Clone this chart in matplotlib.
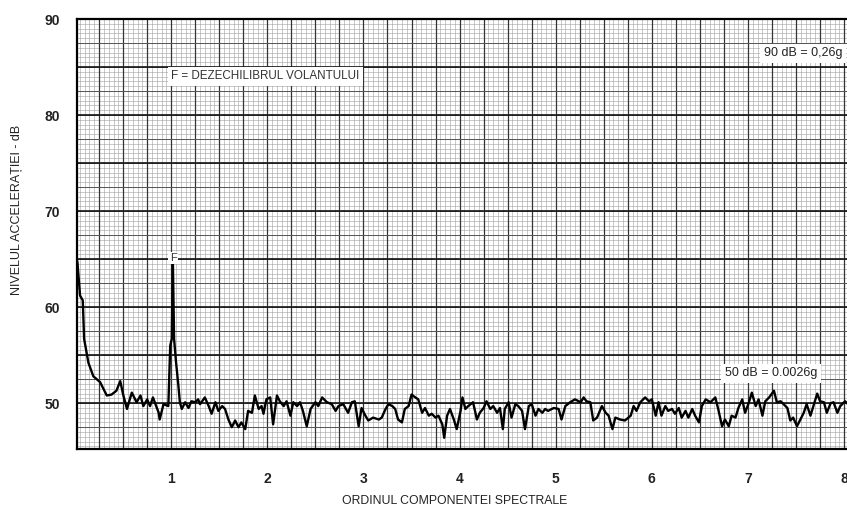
import matplotlib
matplotlib.use("Agg")
import matplotlib.pyplot as plt
import numpy as np

plt.rcParams['font.family'] = ['Liberation Sans', 'DejaVu Sans']

# Spectral trace: order (x) vs acceleration level (dB)
order = [0.0, 0.024, 0.052, 0.08, 0.094, 0.139, 0.19, 0.26, 0.33, 0.38, 0.43, 0.47, 0.50, 0.54,
         0.59, 0.64, 0.68, 0.71, 0.75, 0.78, 0.81, 0.87, 0.88, 0.92, 0.97, 0.99, 1.006, 1.017,
         1.03, 1.05, 1.075, 1.09, 1.11, 1.145, 1.18, 1.21, 1.25, 1.28, 1.30, 1.35, 1.39, 1.42,
         1.46, 1.49, 1.53, 1.56, 1.595, 1.63, 1.665, 1.70, 1.73, 1.77, 1.80, 1.84, 1.87, 1.91,
         1.94, 1.96, 1.99, 2.03, 2.06, 2.10, 2.13, 2.17, 2.20, 2.24, 2.27, 2.31, 2.34, 2.37,
         2.41, 2.45, 2.50, 2.53, 2.57, 2.62, 2.67, 2.71, 2.74, 2.79, 2.84, 2.88, 2.91, 2.95,
         2.98, 3.02, 3.05, 3.10, 3.16, 3.19, 3.23, 3.26, 3.30, 3.33, 3.36, 3.40, 3.43, 3.47,
         3.50, 3.54, 3.57, 3.61, 3.64, 3.68, 3.71, 3.75, 3.78, 3.82, 3.84, 3.87, 3.90, 3.94,
         3.97, 4.01, 4.03, 4.06, 4.09, 4.14, 4.18, 4.21, 4.25, 4.28, 4.32, 4.35, 4.39, 4.42,
         4.45, 4.47, 4.51, 4.54, 4.58, 4.61, 4.65, 4.68, 4.72, 4.75, 4.79, 4.82, 4.86, 4.89,
         4.92, 4.98, 5.03, 5.06, 5.10, 5.15, 5.20, 5.26, 5.29, 5.32, 5.36, 5.39, 5.43, 5.48,
         5.52, 5.55, 5.59, 5.62, 5.67, 5.72, 5.78, 5.81, 5.84, 5.88, 5.93, 5.97, 6.00, 6.04,
         6.07, 6.10, 6.14, 6.17, 6.21, 6.24, 6.28, 6.31, 6.35, 6.38, 6.42, 6.45, 6.49, 6.52,
         6.56, 6.61, 6.66, 6.69, 6.73, 6.76, 6.80, 6.83, 6.87, 6.90, 6.94, 6.97, 7.01, 7.04,
         7.08, 7.11, 7.15, 7.18, 7.22, 7.27, 7.30, 7.34, 7.37, 7.41, 7.44, 7.47, 7.51, 7.54,
         7.58, 7.61, 7.65, 7.68, 7.72, 7.75, 7.79, 7.82, 7.86, 7.89, 7.93, 7.96, 8.01, 8.05]
level_db = [65.5, 64.7, 61.2, 60.7, 56.7, 54.2, 52.8, 52.2, 50.8, 50.9, 51.3, 52.3, 50.9, 49.4,
            51.1, 50.1, 50.8, 49.7, 50.4, 49.7, 50.6, 49.0, 48.3, 49.9, 49.7, 56.0, 56.7, 65.0,
            56.7, 54.3, 51.8, 50.1, 49.4, 50.1, 49.5, 50.2, 50.1, 50.4, 49.9, 50.6, 49.7, 48.9,
            50.1, 49.2, 49.7, 49.4, 48.3, 47.5, 48.2, 47.5, 48.0, 47.3, 49.2, 49.0, 50.8, 49.4,
            49.7, 48.9, 50.4, 50.6, 47.8, 50.8, 50.2, 49.7, 50.2, 48.7, 50.1, 49.7, 50.1, 49.2,
            47.6, 49.4, 50.1, 49.7, 50.6, 50.1, 49.9, 49.2, 49.7, 49.9, 49.0, 50.1, 50.2, 47.6,
            49.5, 48.7, 48.2, 48.5, 48.3, 48.5, 49.4, 49.9, 49.7, 49.4, 48.3, 48.0, 49.4, 49.7,
            50.9, 50.6, 50.4, 49.0, 49.5, 48.7, 48.9, 48.5, 48.7, 47.8, 46.4, 48.7, 49.4, 48.3,
            47.3, 49.2, 50.6, 49.4, 49.7, 50.1, 48.3, 49.0, 49.5, 50.2, 49.4, 49.7, 49.0, 49.5,
            47.3, 49.4, 50.1, 48.5, 49.9, 49.7, 49.2, 47.3, 49.7, 49.9, 48.7, 49.4, 49.0, 49.4,
            49.2, 49.5, 49.4, 48.3, 49.7, 50.1, 50.4, 50.1, 50.6, 50.2, 50.1, 48.2, 48.5, 49.7,
            49.0, 48.7, 47.3, 48.5, 48.3, 48.2, 48.7, 49.7, 49.2, 50.1, 50.6, 50.2, 50.4, 48.7,
            50.1, 48.7, 49.7, 49.2, 49.4, 48.9, 49.5, 48.5, 49.2, 48.5, 49.4, 48.7, 48.0, 49.7,
            50.4, 50.1, 50.6, 49.4, 47.6, 48.3, 47.6, 48.7, 48.5, 49.5, 50.4, 49.0, 50.1, 51.1,
            49.7, 50.4, 48.7, 50.2, 50.6, 51.3, 50.1, 50.2, 49.9, 49.5, 48.2, 48.5, 47.6, 48.2,
            49.0, 49.9, 48.7, 49.7, 51.0, 50.2, 50.1, 49.0, 50.0, 50.1, 49.0, 49.7, 50.2, 49.8]

x_ticks = [1, 2, 3, 4, 5, 6, 7, 8]
y_ticks = [50, 60, 70, 80, 90]

W, H = 847, 508
fig = plt.figure(figsize=(W / 100, H / 100), dpi=100)
left, right, top, bottom = 77, 847, 19, 449.3
ax = fig.add_axes([left / W, 1 - bottom / H, (right - left) / W, (bottom - top) / H])
ax.set_xlim(0.02, 8.03)
ax.set_ylim(45.2, 90)

# graph-paper grid
xf = np.arange(0, 8.1, 0.05)
yf = np.arange(45.5, 90.01, 0.5)
for v in xf:
    ax.axvline(v, color='#a0a0a0', lw=0.4, zorder=1)
for v in yf:
    ax.axhline(v, color='#a0a0a0', lw=0.4, zorder=1)
for v in np.arange(0, 8.1, 0.25):
    ax.axvline(v, color='#333333', lw=0.9, zorder=2)
for v in np.arange(47.5, 90.01, 2.5):
    ax.axhline(v, color='#555555', lw=0.7, zorder=2)
for v in np.arange(50, 90.01, 5):
    ax.axhline(v, color='#1a1a1a', lw=1.25, zorder=2)

ax.plot(order, level_db, color='black', lw=1.7, zorder=5, solid_joinstyle='round')

for s in ['left', 'bottom', 'top']:
    ax.spines[s].set_linewidth(1.6)
    ax.spines[s].set_zorder(6)
ax.spines['right'].set_visible(False)

ax.set_xticks(x_ticks)
ax.set_yticks(y_ticks)
ax.tick_params(length=0, labelsize=10)
ax.tick_params(axis='y', pad=12)
ax.tick_params(axis='x', pad=16.5)
for lab in ax.get_xticklabels() + ax.get_yticklabels():
    lab.set_fontweight('bold')
    lab.set_color('#222222')

box = dict(facecolor='white', edgecolor='none', pad=2.5)
ax.text(1.0, 84.05, 'F = DEZECHILIBRUL VOLANTULUI', fontsize=8.4, color='#333333',
        va='center', ha='left', bbox=box, zorder=7)
ax.text(7.98, 86.45, '90 dB = 0,26g', fontsize=9, color='#222222',
        va='center', ha='right', bbox=box, zorder=7)
ax.text(7.24, 53.14, '50 dB = 0.0026g', fontsize=9, color='#222222',
        va='center', ha='center', bbox=box, zorder=7)
ax.text(1.02, 65.1, 'F', fontsize=8, color='#333333', va='center', ha='center',
        bbox=dict(facecolor='white', edgecolor='none', pad=1.0), zorder=7)

fig.text(455 / W, 1 - 501 / H, 'ORDINUL COMPONENTEI SPECTRALE', fontsize=8.8,
         color='#222222', ha='center', va='center')
fig.text(17 / W, 1 - 210 / H, 'NIVELUL ACCELERAȚIEI - dB', fontsize=9, rotation=90,
         color='#222222', ha='center', va='center')

fig.savefig('out.png', dpi=100)
